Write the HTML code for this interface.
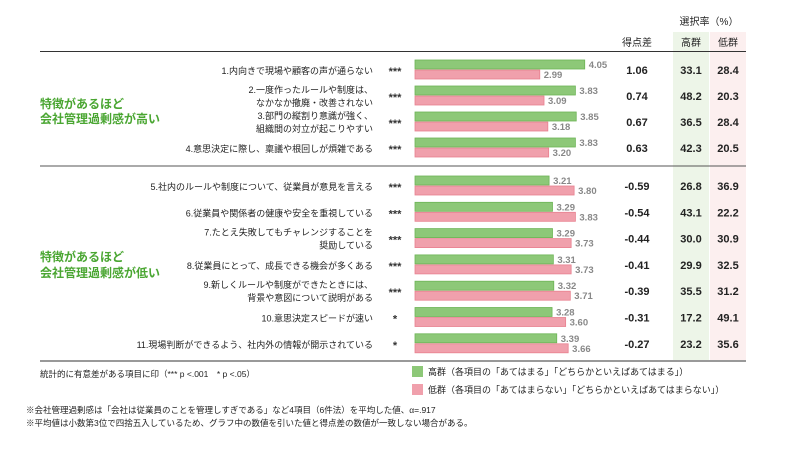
<!DOCTYPE html>
<html><head><meta charset="utf-8">
<style>
body{margin:0;background:#fff;width:790px;height:444px;overflow:hidden;font-family:"Liberation Sans","Noto Sans CJK JP",sans-serif;}
svg text{font-family:"Liberation Sans","Noto Sans CJK JP",sans-serif;}
</style></head>
<body>
<svg id="chart" width="790" height="444">
<rect x="673" y="32" width="36" height="330" fill="#edf5e8"/>
<rect x="710" y="32" width="36" height="330" fill="#fcefef"/>
<text x="709" y="25" font-size="10" text-anchor="middle" fill="#222">選択率（%）</text>
<text x="637" y="46" font-size="10" text-anchor="middle" fill="#222">得点差</text>
<text x="691" y="46" font-size="10" text-anchor="middle" fill="#222">高群</text>
<text x="728" y="46" font-size="10" text-anchor="middle" fill="#222">低群</text>
<line x1="40" y1="51.5" x2="746" y2="51.5" stroke="#333" stroke-width="1"/>
<line x1="40" y1="166" x2="746" y2="166" stroke="#555" stroke-width="1"/>
<line x1="40" y1="361" x2="746" y2="361" stroke="#999" stroke-width="2"/>
<g fill="#4aa632" font-size="12" font-weight="bold">
<text x="40" y="108">特徴があるほど</text>
<text x="40" y="123">会社管理過剰感が高い</text>
<text x="40" y="261">特徴があるほど</text>
<text x="40" y="277">会社管理過剰感が低い</text>
</g>
<g id="rows"></g>
<rect x="412" y="366" width="11" height="11" fill="#8dc878"/>
<text x="428" y="375" font-size="9" fill="#222">高群（各項目の「あてはまる」「どちらかといえばあてはまる」）</text>
<rect x="412" y="384" width="11" height="11" fill="#f0a0ac"/>
<text x="428" y="393" font-size="9" fill="#222">低群（各項目の「あてはまらない」「どちらかといえばあてはまらない」）</text>
<text x="40" y="377" font-size="8.5" fill="#222">統計的に有意差がある項目に印（*** p &lt;.001　* p &lt;.05）</text>
<text x="26" y="413" font-size="8.5" fill="#222">※会社管理過剰感は「会社は従業員のことを管理しすぎである」など4項目（6件法）を平均した値、α=.917</text>
<text x="26" y="426" font-size="8.5" fill="#222">※平均値は小数第3位で四捨五入しているため、グラフ中の数値を引いた値と得点差の数値が一致しない場合がある。</text>
</svg>
<script>
const labels=[["1.内向きで現場や顧客の声が通らない"],["2.一度作ったルールや制度は、","なかなか撤廃・改善されない"],["3.部門の縦割り意識が強く、","組織間の対立が起こりやすい"],["4.意思決定に際し、稟議や根回しが煩雑である"],["5.社内のルールや制度について、従業員が意見を言える"],["6.従業員や関係者の健康や安全を重視している"],["7.たとえ失敗してもチャレンジすることを","奨励している"],["8.従業員にとって、成長できる機会が多くある"],["9.新しくルールや制度ができたときには、","背景や意図について説明がある"],["10.意思決定スピードが速い"],["11.現場判断ができるよう、社内外の情報が開示されている"]];
const sig=["***","***","***","***","***","***","***","***","***","*","*"];
const highScores=[4.05,3.83,3.85,3.83,3.21,3.29,3.29,3.31,3.32,3.28,3.39];
const lowScores=[2.99,3.09,3.18,3.20,3.80,3.83,3.73,3.73,3.71,3.60,3.66];
const diffs=["1.06","0.74","0.67","0.63","-0.59","-0.54","-0.44","-0.41","-0.39","-0.31","-0.27"];
const highRates=["33.1","48.2","36.5","42.3","26.8","43.1","30.0","29.9","35.5","17.2","23.2"];
const lowRates=["28.4","20.3","28.4","20.5","36.9","22.2","30.9","32.5","31.2","49.1","35.6"];
const NS="http://www.w3.org/2000/svg";
const g=document.getElementById('rows');
const x=v=>413+v*42.4;
function rowCenter(i){return i<4?70+26*i:186+26.3*(i-4);}
function mk(tag,attrs,txt){const e=document.createElementNS(NS,tag);for(const k in attrs)e.setAttribute(k,attrs[k]);if(txt!==undefined)e.textContent=txt;g.appendChild(e);return e;}
for(let i=0;i<labels.length;i++){
 const c=rowCenter(i);
 const L=labels[i];
 L.forEach((t,j)=>{
  const y=L.length===1?c+4:c-3+j*13;
  const e=mk('text',{x:373,y:y,'font-size':9,'text-anchor':'end',fill:'#222'},t);
  
  
 });
 let e=mk('text',{x:395,y:c+5,'font-size':11,'font-weight':'bold','text-anchor':'middle',fill:'#333'},sig[i]);
 
 
 e=mk('rect',{x:415,y:c-10,width:x(highScores[i])-415,height:9,fill:'#8dc878',stroke:'#6db456','stroke-width':0.8});
 
 
 e=mk('rect',{x:415,y:c,width:x(lowScores[i])-415,height:9,fill:'#f0a0ac',stroke:'#e8808f','stroke-width':0.8});
 
 
 e=mk('text',{x:x(highScores[i])+4,y:c-2,'font-size':9.5,'font-weight':'bold',fill:'#888'},highScores[i].toFixed(2));
 
 
 e=mk('text',{x:x(lowScores[i])+4,y:c+8,'font-size':9.5,'font-weight':'bold',fill:'#888'},lowScores[i].toFixed(2));
 
 
 e=mk('text',{x:637,y:c+4,'font-size':11,'text-anchor':'middle',fill:'#222','font-weight':'bold'},diffs[i]);
 
 
 e=mk('text',{x:691,y:c+4,'font-size':11,'text-anchor':'middle',fill:'#222','font-weight':'bold'},highRates[i]);
 
 
 e=mk('text',{x:728,y:c+4,'font-size':11,'text-anchor':'middle',fill:'#222','font-weight':'bold'},lowRates[i]);
 
 
}
</script>
</body></html>
